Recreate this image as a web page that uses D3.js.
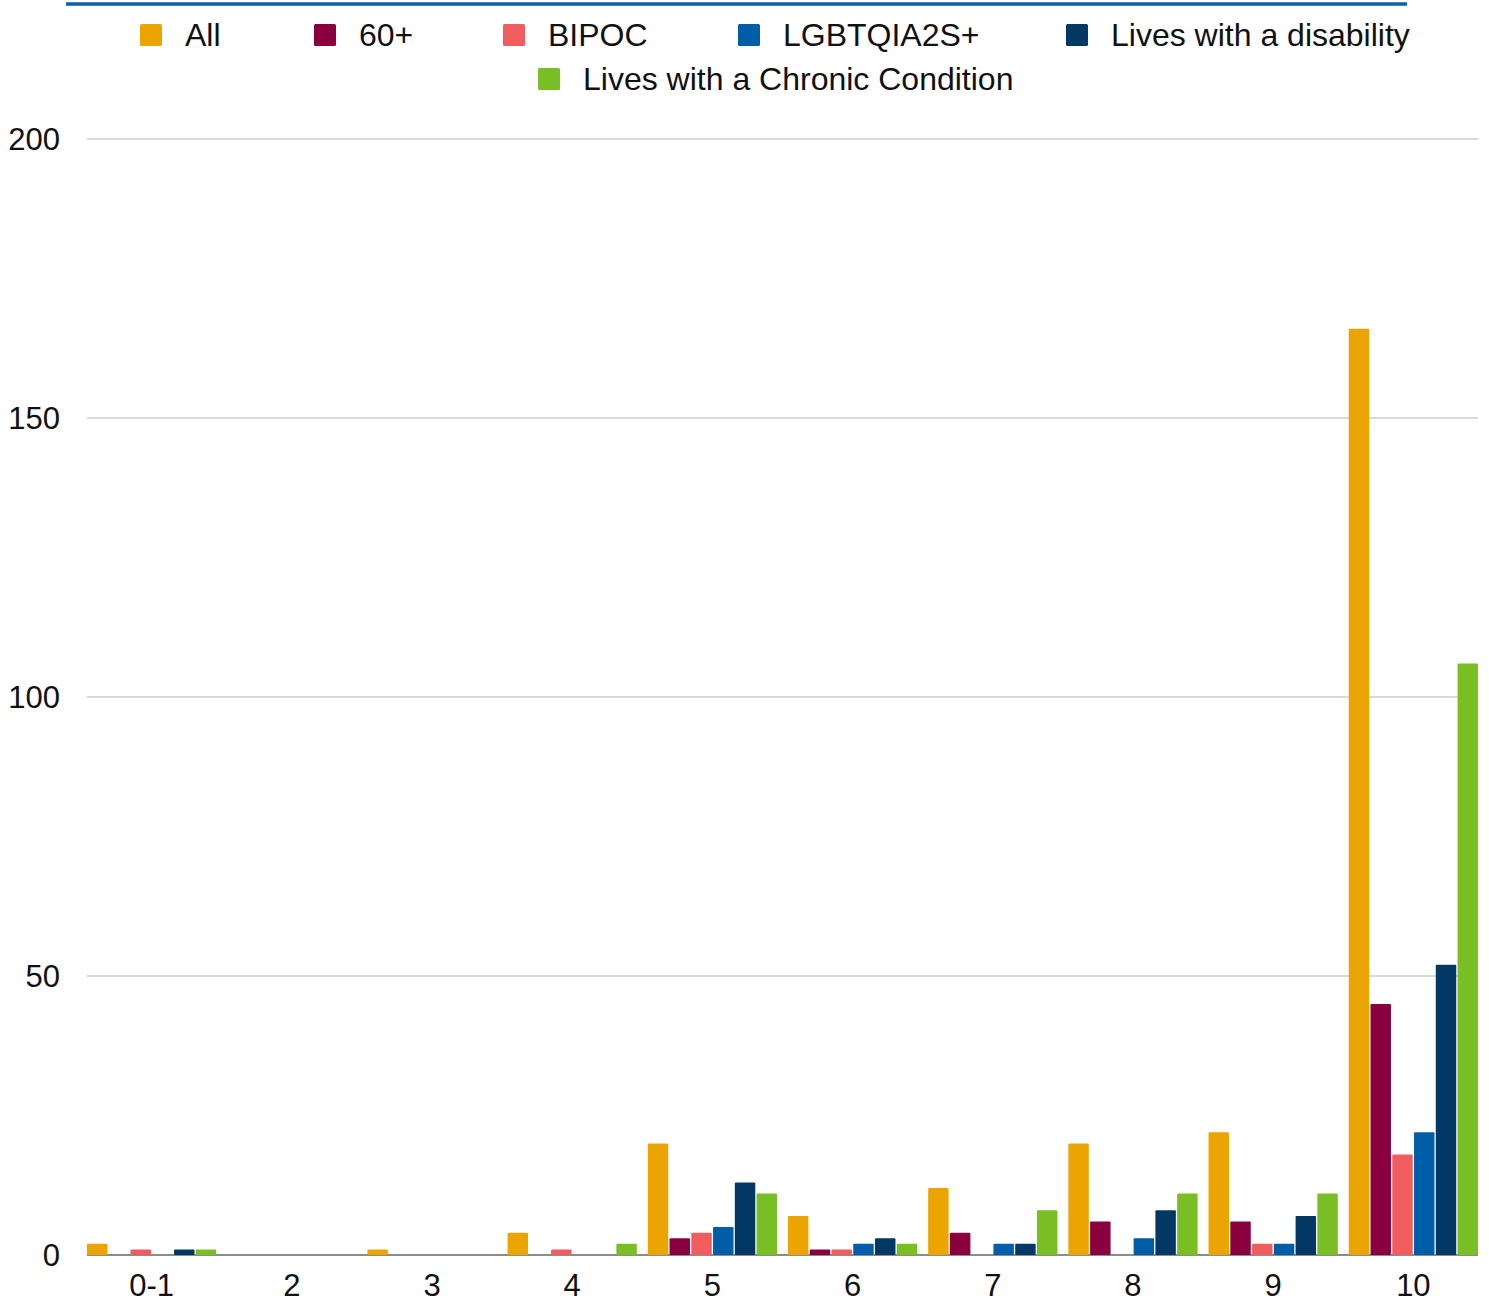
<!DOCTYPE html>
<html><head><meta charset="utf-8">
<script src="https://cdn.jsdelivr.net/npm/d3@7"></script>
<style>body{margin:0;background:#fff}svg{display:block}</style>
</head><body>
<svg id="c" width="1489" height="1308"></svg>
<script>
const categories = ["0-1","2","3","4","5","6","7","8","9","10"];
const seriesNames = ["All","60+","BIPOC","LGBTQIA2S+","Lives with a disability","Lives with a Chronic Condition"];
const seriesColors = ["#eca500","#8a003f","#ef5d5e","#005ea9","#033865","#79be22"];
const valuesAll        = [2,0,1,4,20,7,12,20,22,166];
const values60         = [0,0,0,0,3,1,4,6,6,45];
const valuesBIPOC      = [1,0,0,1,4,1,0,0,2,18];
const valuesLGBTQ      = [0,0,0,0,5,2,2,3,2,22];
const valuesDisability = [1,0,0,0,13,3,2,8,7,52];
const valuesChronic    = [1,0,0,2,11,2,8,11,11,106];
const yTicks = [0,50,100,150,200];

const seriesValues = [valuesAll,values60,valuesBIPOC,valuesLGBTQ,valuesDisability,valuesChronic];
const svg = d3.select("#c");
const font = "Liberation Sans, Arial, sans-serif";

const x = d3.scaleBand().domain(categories).range([87,1478]).paddingInner(0.078).paddingOuter(0);
const x1 = d3.scaleBand().domain(d3.range(seriesNames.length)).range([0,x.bandwidth()]).paddingInner(0.06).paddingOuter(0);
const y = d3.scaleLinear().domain([0,200]).range([1255,139]);

// gridlines
svg.append("g").selectAll("line").data(yTicks).join("line")
  .attr("x1",87).attr("x2",1478)
  .attr("y1",d=>y(d)).attr("y2",d=>y(d))
  .attr("stroke",d=>d===0?"#8c8c8c":"#cccccc")
  .attr("stroke-width",d=>d===0?2:1.5);

// y labels
svg.append("g").selectAll("text").data(yTicks).join("text")
  .attr("x",60).attr("y",d=>y(d)).attr("dy","0.36em")
  .attr("text-anchor","end").attr("font-family",font).attr("font-size",31).attr("fill","#111")
  .text(d=>d);

// x labels
svg.append("g").selectAll("text").data(categories).join("text")
  .attr("x",d=>x(d)+x.bandwidth()/2).attr("y",1296)
  .attr("text-anchor","middle").attr("font-family",font).attr("font-size",31).attr("fill","#111")
  .text(d=>d);

// bars
const g = svg.append("g");
seriesValues.forEach((vals,si)=>{
  g.append("g").selectAll("rect").data(vals.map((v,i)=>({cat:categories[i],v})).filter(d=>d.v>0)).join("rect")
    .attr("x",d=>x(d.cat)+x1(si))
    .attr("width",x1.bandwidth())
    .attr("y",d=>y(d.v))
    .attr("height",d=>y(0)-y(d.v))
    .attr("rx",1)
    .attr("fill",seriesColors[si]);
});

// top rule
svg.append("line").attr("x1",66).attr("x2",1407).attr("y1",4).attr("y2",4)
  .attr("stroke","#0f5ea8").attr("stroke-width",3.5);

// legend
const legendPos = [[140,35],[314,35],[503,35],[738,35],[1066,35],[538,79]];
const lg = svg.append("g");
seriesNames.forEach((n,i)=>{
  const [lx,ly] = legendPos[i];
  lg.append("rect").attr("x",lx).attr("y",ly-11).attr("width",22).attr("height",22).attr("rx",1.5).attr("fill",seriesColors[i]);
  lg.append("text").attr("x",lx+45).attr("y",ly).attr("dy","0.35em")
    .attr("font-family",font).attr("font-size",32).attr("fill","#111")
    .text(n);
});
</script>
</body></html>
